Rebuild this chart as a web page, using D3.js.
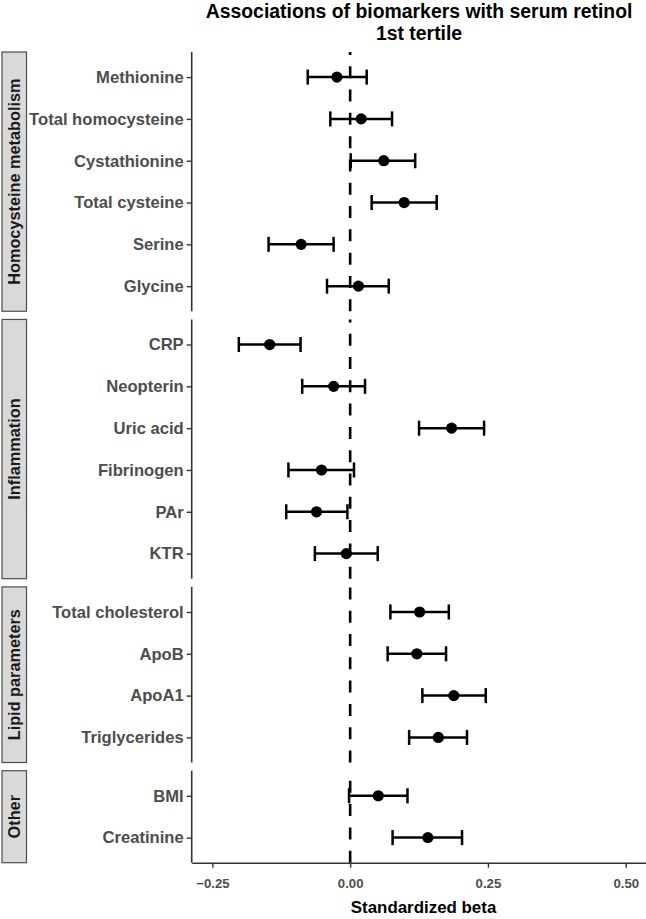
<!DOCTYPE html>
<html>
<head>
<meta charset="utf-8">
<script src="https://cdn.jsdelivr.net/npm/d3@7/dist/d3.min.js"></script>
<style>
  html, body { margin: 0; padding: 0; background: #fff; }
  svg { display: block; font-family: "Liberation Sans", Arial, Helvetica, sans-serif; }
</style>
</head>
<body>
<svg id="chart" width="646" height="919"></svg>
<script>
// ---------- data ----------
const groups = ["Homocysteine metabolism", "Inflammation", "Lipid parameters", "Other"];
const biomarkers = ["Methionine", "Total homocysteine", "Cystathionine", "Total cysteine", "Serine", "Glycine",
  "CRP", "Neopterin", "Uric acid", "Fibrinogen", "PAr", "KTR",
  "Total cholesterol", "ApoB", "ApoA1", "Triglycerides",
  "BMI", "Creatinine"];
const groupOf = ["Homocysteine metabolism", "Homocysteine metabolism", "Homocysteine metabolism", "Homocysteine metabolism", "Homocysteine metabolism", "Homocysteine metabolism",
  "Inflammation", "Inflammation", "Inflammation", "Inflammation", "Inflammation", "Inflammation",
  "Lipid parameters", "Lipid parameters", "Lipid parameters", "Lipid parameters",
  "Other", "Other"];
const estimate = [-0.024, 0.020, 0.061, 0.098, -0.089, 0.015,
  -0.146, -0.030, 0.184, -0.052, -0.061, -0.007,
  0.126, 0.121, 0.188, 0.160,
  0.051, 0.141];
const lower = [-0.077, -0.036, 0.001, 0.039, -0.148, -0.042,
  -0.202, -0.087, 0.125, -0.112, -0.116, -0.064,
  0.073, 0.068, 0.131, 0.107,
  -0.002, 0.077];
const upper = [0.030, 0.076, 0.118, 0.157, -0.030, 0.070,
  -0.090, 0.027, 0.243, 0.007, -0.005, 0.050,
  0.179, 0.174, 0.246, 0.212,
  0.104, 0.203];
const xTicks = [-0.25, 0, 0.25, 0.5];
const titleLines = ["Associations of biomarkers with serum retinol", "1st tertile"];
const xTitle = "Standardized beta";

// ---------- layout ----------
const svg = d3.select("#chart");
const panelLeft = 191.7, panelRight = 646.4;
const areaTop = 52, areaBottom = 862.7, gap = 8.2;
const stripX = 2, stripW = 24.5;

const x = d3.scaleLinear().domain([-0.2875, 0.5375]).range([panelLeft, panelRight]);

const rows = biomarkers.map((b, i) => ({ name: b, group: groupOf[i], est: estimate[i], lo: lower[i], hi: upper[i] }));
const counts = groups.map(g => rows.filter(r => r.group === g).length);
const totalUnits = d3.sum(counts, c => c + 0.2);
const unit = (areaBottom - areaTop - gap * (groups.length - 1)) / totalUnits;

// title
const title = svg.append("g");
titleLines.forEach((t, i) => {
  title.append("text")
    .attr("x", (panelLeft + panelRight) / 2)
    .attr("y", 18 + i * 22)
    .attr("text-anchor", "middle")
    .attr("font-size", "19.4px")
    .attr("font-weight", "bold")
    .attr("fill", "#000")
    .text(t);
});

let panelTop = areaTop;
groups.forEach((g, gi) => {
  const data = rows.filter(r => r.group === g);
  const h = (counts[gi] + 0.2) * unit;
  const y = d3.scalePoint().domain(data.map(d => d.name)).range([panelTop, panelTop + h]).padding(0.6);
  const panel = svg.append("g");

  // strip
  panel.append("rect")
    .attr("x", stripX).attr("y", panelTop).attr("width", stripW).attr("height", h)
    .attr("fill", "#D9D9D9").attr("stroke", "#4D4D4D").attr("stroke-width", 1.2);
  panel.append("text")
    .attr("transform", `translate(${stripX + stripW / 2 + 5.6},${panelTop + h / 2}) rotate(-90)`)
    .attr("text-anchor", "middle")
    .attr("font-size", "16.3px")
    .attr("font-weight", "bold")
    .attr("fill", "#1A1A1A")
    .text(g);

  // reference line at zero (dashes start from the panel bottom)
  panel.append("line")
    .attr("x1", x(0)).attr("x2", x(0))
    .attr("y1", panelTop + h).attr("y2", panelTop)
    .attr("stroke", "#000").attr("stroke-width", 2.6)
    .attr("stroke-dasharray", "12,11.3");

  // y axis
  const yAxis = panel.append("g")
    .attr("transform", `translate(${panelLeft},0)`)
    .call(d3.axisLeft(y).tickSize(5).tickPadding(3).tickSizeOuter(0));
  yAxis.select(".domain").attr("stroke", "#333").attr("stroke-width", 1.6)
    .attr("d", `M0,${panelTop}V${panelTop + h}`);
  yAxis.selectAll(".tick line").attr("stroke", "#333").attr("stroke-width", 1.4);
  yAxis.selectAll(".tick text")
    .attr("font-size", "16.6px").attr("font-weight", "bold").attr("fill", "#4D4D4D")
    .attr("font-family", "'Liberation Sans', Arial, sans-serif");

  // error bars
  const cap = y.step() * 0.18;
  const eb = panel.append("g").attr("stroke", "#000").attr("stroke-width", 2.5).attr("fill", "none");
  data.forEach(d => {
    const cy = y(d.name);
    eb.append("line").attr("x1", x(d.lo)).attr("x2", x(d.hi)).attr("y1", cy).attr("y2", cy);
    eb.append("line").attr("x1", x(d.lo)).attr("x2", x(d.lo)).attr("y1", cy - cap).attr("y2", cy + cap);
    eb.append("line").attr("x1", x(d.hi)).attr("x2", x(d.hi)).attr("y1", cy - cap).attr("y2", cy + cap);
  });
  panel.append("g").selectAll("circle").data(data).join("circle")
    .attr("cx", d => x(d.est)).attr("cy", d => y(d.name)).attr("r", 5.6).attr("fill", "#000");

  // x axis only on last panel
  if (gi === groups.length - 1) {
    const xAxis = svg.append("g")
      .attr("transform", `translate(0,${panelTop + h})`)
      .call(d3.axisBottom(x).tickValues(xTicks).tickFormat(d3.format(".2f")).tickSize(5).tickPadding(10.5).tickSizeOuter(0));
    xAxis.select(".domain").attr("stroke", "#333").attr("stroke-width", 1.6);
    xAxis.selectAll(".tick line").attr("stroke", "#333").attr("stroke-width", 1.4);
    xAxis.selectAll(".tick text")
      .attr("font-size", "13.2px").attr("font-weight", "bold").attr("fill", "#4D4D4D")
      .attr("font-family", "'Liberation Sans', Arial, sans-serif");
    svg.append("text")
      .attr("x", (panelLeft + panelRight) / 2 + 4.5)
      .attr("y", 913)
      .attr("text-anchor", "middle")
      .attr("font-size", "16.9px")
      .attr("font-weight", "bold")
      .attr("fill", "#000")
      .text(xTitle);
  }
  panelTop += h + gap;
});
</script>
</body>
</html>
